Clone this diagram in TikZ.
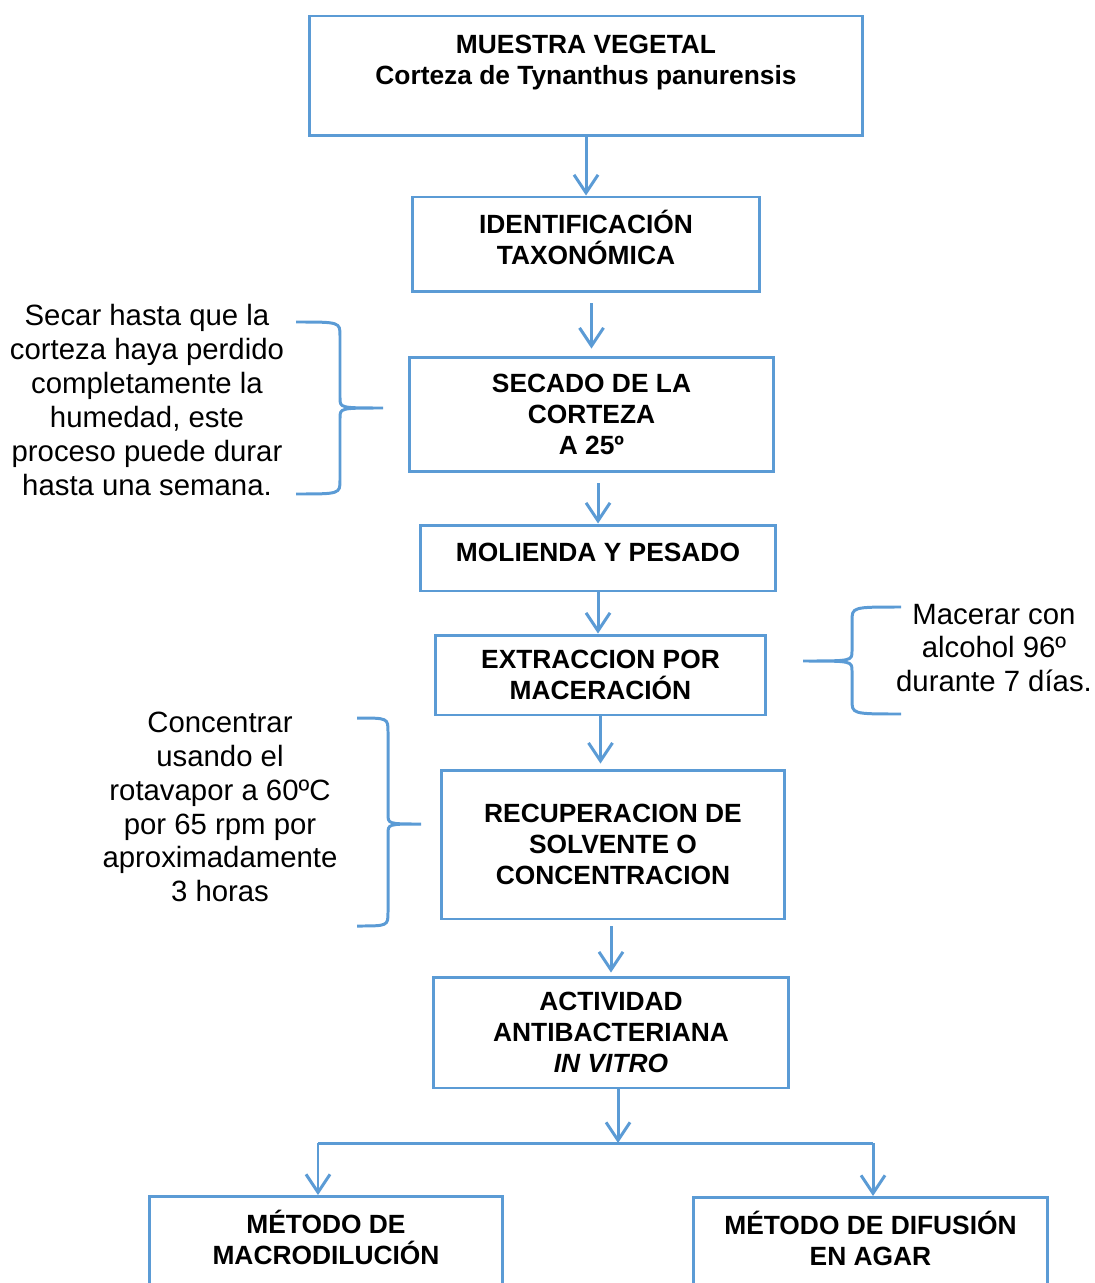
\documentclass[tikz,border=0pt]{standalone}
\usepackage{fontspec}
\setmainfont{Liberation Sans}
\usetikzlibrary{arrows.meta, positioning, calc}

\definecolor{flowblue}{RGB}{91,155,213}

% side brace: end x, spine x, tip x, top y, tip y, bottom y
\newcommand{\sidebrace}[6]{%
	\draw[brace] (#1,#4) .. controls (#2,#4) .. (#2,{#4+14}) -- (#2,{#5-10})
	.. controls (#2,#5) .. (#3,#5) .. controls (#2,#5) .. (#2,{#5+10})
	-- (#2,{#6-14}) .. controls (#2,#6) .. (#1,#6);}

\begin{document}
\begin{tikzpicture}[x=0.02cm, y=-0.02cm,
	>={Straight Barb[length=0.36cm, width=0.48cm]},
	box/.style={draw=flowblue, line width=1.7pt, align=center,
		font=\fontsize{15}{17.6}\selectfont\bfseries},
	boxlabel/.style={anchor=north, yshift=-0.3cm, align=center,
		font=\fontsize{15}{17.6}\selectfont\bfseries},
	boxtext/.style={align=center, font=\fontsize{15}{17.6}\selectfont\bfseries},
	note/.style={align=center, font=\fontsize{16.7}{19.3}\selectfont},
	flow/.style={->, draw=flowblue, line width=1.7pt},
	link/.style={draw=flowblue, line width=1.7pt},
	brace/.style={draw=flowblue, line width=1.7pt}]
	
	% ====== frame ======
	\useasboundingbox (0,0) rectangle (1094,1283);
	
	% ====== boxes ======
	\node[box, minimum width=11.08cm, minimum height=2.4cm,
	label={[boxlabel, yshift=0.02cm]north:{MUESTRA VEGETAL\\Corteza de Tynanthus panurensis}}]
	(muestra) at (586,76) {};
	\node[box, minimum width=6.96cm, minimum height=1.9cm,
	label={[boxtext, yshift=0.14cm]center:{IDENTIFICACIÓN\\TAXONÓMICA}}]
	(ident) at (586,244.5) {};
	\node[box, minimum width=7.3cm, minimum height=2.3cm] (secado) at (591.5,414.5)
	{SECADO DE LA\\CORTEZA\\A 25º};
	\node[box, minimum width=7.12cm, minimum height=1.32cm,
	label={[boxtext, yshift=0.12cm]center:{MOLIENDA Y PESADO}}]
	(molienda) at (598,558) {};
	\node[box, minimum width=6.62cm, minimum height=1.6cm] (extraccion) at (600.5,675)
	{EXTRACCION POR\\MACERACIÓN};
	\node[box, minimum width=6.88cm, minimum height=2.98cm] (recuperacion) at (613,844.5)
	{RECUPERACION DE\\SOLVENTE O\\CONCENTRACION};
	\node[box, minimum width=7.12cm, minimum height=2.22cm] (actividad) at (611,1032.5)
	{ACTIVIDAD\\ANTIBACTERIANA\\\textit{IN VITRO}};
	\node[box, anchor=north, minimum width=7.08cm, minimum height=3cm,
	label={[boxlabel, yshift=0.12cm]north:{MÉTODO DE\\MACRODILUCIÓN}}]
	(macro) at (326,1195) {};
	\node[box, anchor=north, minimum width=7.1cm, minimum height=3cm,
	label={[boxlabel, yshift=0.12cm]north:{MÉTODO DE DIFUSIÓN\\EN AGAR}}]
	(difusion) at (870.5,1196) {};
	
	% ====== side notes ======
	\node[note] (secar) at (147,400) {Secar hasta que la\\corteza haya perdido\\completamente la\\humedad, este\\proceso puede durar\\hasta una semana.};
	\node[note] (macerar) at (994,648) {Macerar con\\alcohol 96º\\durante 7 días.};
	\node[note] (concentrar) at (220,807) {Concentrar\\usando el\\rotavapor a 60ºC\\por 65 rpm por\\aproximadamente\\3 horas};
	
	% ====== braces ======
	\sidebrace{296}{340}{383}{322}{408}{494}
	\sidebrace{901}{852}{803}{607}{661}{714}
	\sidebrace{357}{388}{421}{718}{824}{926}
	
	% ====== arrows ======
	\draw[flow] (muestra.south) -- (ident.north);
	\draw[flow] ($(ident.south -| secado.north)+(0,10)$) -- ($(secado.north)+(0,-7)$);
	\draw[flow] ($(secado.south -| molienda.north)+(0,10)$) -- (molienda.north);
	\draw[flow] (molienda.south) -- (molienda.south |- extraccion.north);
	\draw[flow] (extraccion.south) -- ($(extraccion.south |- recuperacion.north)+(0,-5)$);
	\draw[flow] ($(recuperacion.south -| actividad.north)+(0,6)$) -- ($(actividad.north)+(0,-3)$);
	
	% ====== split to the two methods ======
	\coordinate (split) at (618,1143);
	\coordinate (splitL) at (318,1143);
	\coordinate (splitR) at (873,1143);
	\draw[flow] (split |- actividad.south) -- (split);
	\draw[link] (splitL) -- (splitR);
	\draw[flow] (splitL) -- (splitL |- macro.north);
	\draw[flow] (splitR) -- (splitR |- difusion.north);
\end{tikzpicture}
\end{document}
